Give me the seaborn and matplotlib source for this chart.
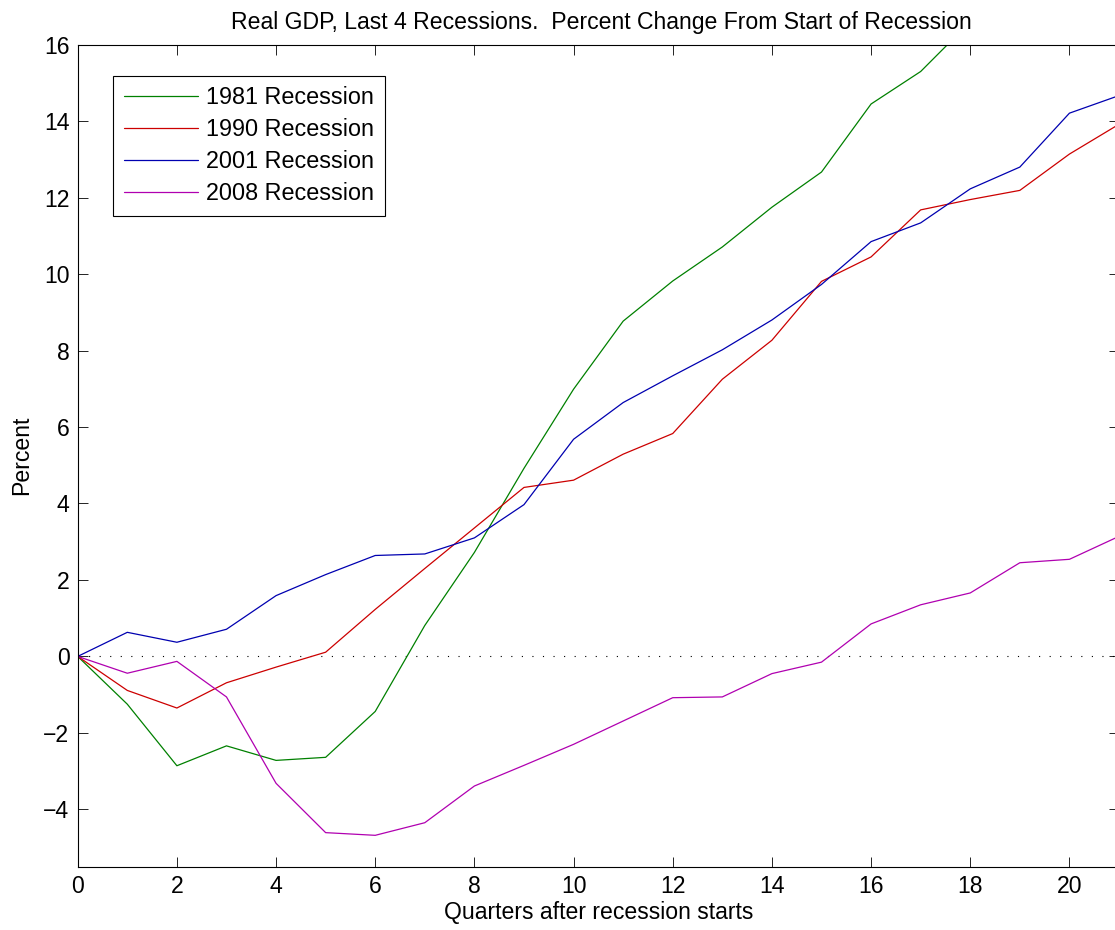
import numpy as np
import pandas as pd
import matplotlib
matplotlib.use("Agg")
import matplotlib.pyplot as plt
import seaborn as sns

# Real GDP, percent change from the quarter each recession started
quarters = list(range(22))
rec_1981 = [0, -1.25, -2.86, -2.34, -2.72, -2.64, -1.44, 0.81, 2.72, 4.92,
            6.99, 8.77, 9.82, 10.71, 11.75, 12.67, 14.45, 15.30, 16.60]
rec_1990 = [0, -0.89, -1.35, -0.69, -0.28, 0.11, 1.23, 2.30, 3.36, 4.42,
            4.61, 5.29, 5.83, 7.25, 8.27, 9.81, 10.45, 11.68, 11.95, 12.19,
            13.14, 13.92]
rec_2001 = [0, 0.63, 0.37, 0.71, 1.59, 2.14, 2.64, 2.68, 3.10, 3.97,
            5.68, 6.64, 7.34, 8.02, 8.80, 9.73, 10.85, 11.34, 12.23, 12.80,
            14.21, 14.67]
rec_2008 = [0, -0.44, -0.13, -1.06, -3.32, -4.61, -4.68, -4.35, -3.39, -2.85,
            -2.30, -1.69, -1.08, -1.06, -0.45, -0.15, 0.85, 1.35, 1.66, 2.45,
            2.54, 3.14]

labels = ["1981 Recession", "1990 Recession", "2001 Recession", "2008 Recession"]
colors = ["#008000", "#CC0000", "#0000B0", "#B000B0"]

frames = []
for lab, vals in zip(labels, [rec_1981, rec_1990, rec_2001, rec_2008]):
    frames.append(pd.DataFrame({"quarter": quarters[:len(vals)],
                                "pct": vals, "recession": lab}))
df = pd.concat(frames, ignore_index=True)

sns.set_theme(style="white")
plt.rcParams["font.family"] = ["Liberation Sans", "DejaVu Sans"]
plt.rcParams["text.color"] = "black"
fs = 16.6

fig = plt.figure(figsize=(11.15, 9.3), dpi=100)
ax = fig.add_axes([0.0697, 0.0681, 1.0036 - 0.0697, 0.9519 - 0.0681])

sns.lineplot(data=df, x="quarter", y="pct", hue="recession",
             palette=dict(zip(labels, colors)), linewidth=0.9, ax=ax,
             legend=True)

# dotted zero reference
ax.plot([0, 21], [0, 0], color="black", linewidth=0.8,
        linestyle=(0, (1, 8.5)), zorder=1)

ax.set_xlim(0, 21)
ax.set_ylim(-5.5, 16)
ax.set_xticks(range(0, 21, 2))
ax.set_yticks(range(-4, 17, 2))

for side in ["left", "right", "top", "bottom"]:
    ax.spines[side].set_visible(True)
    ax.spines[side].set_color("black")
    ax.spines[side].set_linewidth(0.8)

ax.tick_params(direction="in", length=7, width=0.6, colors="black",
               labelsize=fs, top=True, right=True, bottom=True, left=True,
               pad=6)

ax.set_xlabel("Quarters after recession starts", fontsize=fs, color="black",
              labelpad=2)
ax.set_ylabel("Percent", fontsize=fs, color="black", labelpad=7)
ax.set_title("Real GDP, Last 4 Recessions.  Percent Change From Start of Recession",
             fontsize=fs, color="black", pad=11, x=0.503)

handles, hl = ax.get_legend_handles_labels()
leg = ax.legend(handles, hl, loc="upper left", bbox_to_anchor=(0.0339, 0.962),
                borderaxespad=0, fontsize=16.8, frameon=True, fancybox=False,
                framealpha=1, edgecolor="black", handlelength=3.2,
                handletextpad=0.35, labelspacing=0.38, borderpad=0.45)
leg.get_frame().set_linewidth(0.8)
for t in leg.get_texts():
    t.set_color("black")

fig.savefig("out.png", dpi=100, facecolor="white")
